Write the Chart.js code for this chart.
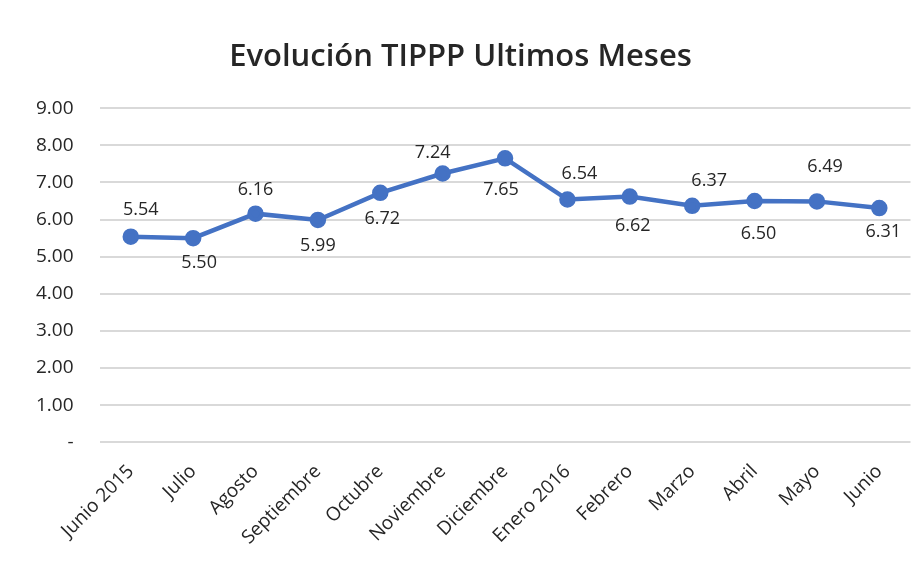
<!DOCTYPE html>
<html>
<head>
<meta charset="utf-8">
<script src="https://cdn.jsdelivr.net/npm/chart.js@4"></script>
<style>
  html, body { margin: 0; padding: 0; background: #fff; }
  #wrap { width: 921px; height: 573px; position: relative; }
</style>
</head>
<body>
<div id="wrap"><canvas id="tipppChart"></canvas></div>
<script>
const meses = ["Junio 2015", "Julio", "Agosto", "Septiembre", "Octubre", "Noviembre",
  "Diciembre", "Enero 2016", "Febrero", "Marzo", "Abril", "Mayo", "Junio"];
const tippp = [5.54, 5.50, 6.16, 5.99, 6.72, 7.24, 7.65, 6.54, 6.62, 6.37, 6.50, 6.49, 6.31];
const yTicks = [0, 1, 2, 3, 4, 5, 6, 7, 8, 9];

// label offset from its point, in px [dx, dy]
const labelOffset = [[10, -27], [6, 25], [0, -24], [0, 26], [2, 26], [-10, -21],
  [-4, 32], [12, -26], [3, 29], [17, -25], [4, 33], [8, -35], [4, 24]];

const valueLabels = {
  id: 'valueLabels',
  afterDatasetsDraw(chart) {
    const ctx = chart.ctx;
    const meta = chart.getDatasetMeta(0);
    ctx.save();
    ctx.font = '18px "Open Sans", sans-serif';
    ctx.fillStyle = '#262626';
    ctx.textAlign = 'center';
    ctx.textBaseline = 'middle';
    meta.data.forEach((pt, i) => {
      const [dx, dy] = labelOffset[i];
      ctx.fillText(tippp[i].toFixed(2), pt.x + dx, pt.y + dy);
    });
    ctx.restore();
  }
};

new Chart(document.getElementById('tipppChart'), {
  type: 'line',
  data: {
    labels: meses,
    datasets: [{
      data: tippp,
      borderColor: '#4472C4',
      backgroundColor: '#4472C4',
      borderWidth: 4.5,
      pointRadius: 6,
      pointHoverRadius: 6,
      pointBackgroundColor: '#4472C4',
      pointBorderColor: '#4472C4',
      tension: 0
    }]
  },
  options: {
    responsive: true,
    maintainAspectRatio: false,
    animation: false,
    layout: { padding: { left: 10, right: 10, top: 29, bottom: 14 } },
    plugins: {
      legend: { display: false },
      tooltip: { enabled: false },
      title: {
        display: true,
        text: 'Evolución TIPPP Ultimos Meses',
        color: '#262626',
        font: { family: '"Open Sans", sans-serif', size: 31, weight: '600' },
        padding: { top: 10, bottom: 32 }
      }
    },
    scales: {
      x: {
        offset: true,
        grid: { display: false },
        border: { display: false },
        ticks: {
          color: '#262626',
          font: { family: '"Open Sans", sans-serif', size: 19 },
          minRotation: 45,
          maxRotation: 45,
          padding: 10
        }
      },
      y: {
        min: 0,
        max: 9,
        afterBuildTicks(axis) { axis.ticks = yTicks.map(v => ({ value: v })); },
        grid: { color: '#d9d9d9', lineWidth: 2, drawTicks: false },
        border: { display: false },
        ticks: {
          color: '#262626',
          font: { family: '"Open Sans", sans-serif', size: 19 },
          padding: 26,
          callback: v => v === 0 ? '-' : v.toFixed(2)
        }
      }
    }
  },
  plugins: [valueLabels]
});
</script>
</body>
</html>
